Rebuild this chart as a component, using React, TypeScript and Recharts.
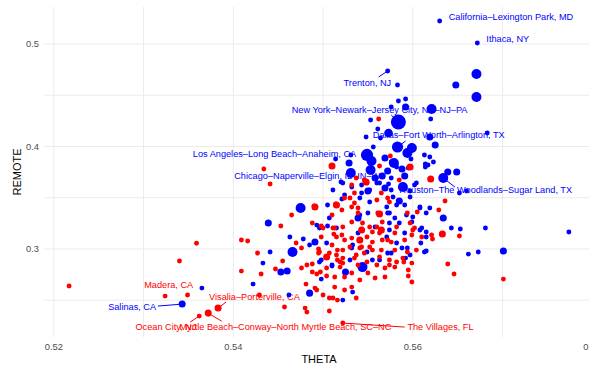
import { ScatterChart, Scatter, XAxis, YAxis, ZAxis, CartesianGrid, ReferenceLine } from 'recharts'

// [theta, remote, size weight]
const bluePoints: number[][] = [
  [0.5630, 0.5224, 2], [0.5672, 0.5010, 2], [0.5671, 0.4707, 5], [0.5648, 0.4600, 3], [0.5671, 0.4483, 5],
  [0.5572, 0.4737, 2], [0.5583, 0.4600, 2], [0.5584, 0.4444, 2], [0.5592, 0.4463, 2], [0.5592, 0.4385, 3],
  [0.5621, 0.4366, 5], [0.5620, 0.4268, 2], [0.5584, 0.4239, 10], [0.5576, 0.4385, 2], [0.5553, 0.4258, 2],
  [0.5561, 0.4170, 2], [0.5573, 0.4131, 4], [0.5564, 0.4083, 2], [0.5548, 0.4092, 2], [0.5619, 0.4092, 3],
  [0.5683, 0.4131, 2], [0.5625, 0.4014, 3], [0.5583, 0.3995, 6], [0.5556, 0.3995, 2], [0.5599, 0.3985, 5],
  [0.5594, 0.3936, 5], [0.5549, 0.3917, 7], [0.5569, 0.3887, 3], [0.5613, 0.3917, 2], [0.5619, 0.3897, 2],
  [0.5598, 0.3878, 2], [0.5531, 0.3917, 2], [0.5514, 0.3878, 2], [0.5529, 0.3839, 3], [0.5554, 0.3858, 5],
  [0.5579, 0.3839, 5], [0.5623, 0.3848, 2], [0.5614, 0.3829, 2], [0.5614, 0.3800, 2], [0.5553, 0.3770, 5],
  [0.5588, 0.3780, 3], [0.5572, 0.3760, 3], [0.5595, 0.3790, 2], [0.5531, 0.3741, 5], [0.5558, 0.3692, 3],
  [0.5566, 0.3712, 3], [0.5576, 0.3692, 2], [0.5591, 0.3712, 3], [0.5634, 0.3692, 5], [0.5639, 0.3751, 3],
  [0.5649, 0.3751, 3], [0.5520, 0.3653, 2], [0.5532, 0.3604, 2], [0.5563, 0.3643, 2], [0.5573, 0.3634, 2],
  [0.5589, 0.3604, 5], [0.5604, 0.3643, 2], [0.5652, 0.3546, 2], [0.5660, 0.3565, 2], [0.5634, 0.3302, 3],
  [0.5643, 0.3204, 2], [0.5653, 0.3194, 2], [0.5681, 0.3204, 2], [0.5774, 0.3165, 2], [0.5662, 0.2950, 2],
  [0.5673, 0.2970, 2], [0.5701, 0.2980, 3], [0.5511, 0.3575, 2], [0.5543, 0.3624, 2], [0.5550, 0.3565, 3],
  [0.5560, 0.3643, 2], [0.5569, 0.3595, 3], [0.5576, 0.3575, 2], [0.5578, 0.3507, 2], [0.5585, 0.3468, 3],
  [0.5541, 0.3497, 2], [0.5552, 0.3458, 2], [0.5597, 0.3507, 2], [0.5597, 0.3565, 2], [0.5608, 0.3399, 2],
  [0.5619, 0.3399, 2], [0.5507, 0.3302, 2], [0.5539, 0.3302, 3], [0.5572, 0.3351, 2], [0.5593, 0.3331, 2],
  [0.5574, 0.3253, 2], [0.5580, 0.3302, 2], [0.5599, 0.3263, 2], [0.5608, 0.3185, 2], [0.5585, 0.3253, 2],
  [0.5571, 0.3116, 2], [0.5582, 0.3058, 2], [0.5615, 0.3116, 2], [0.5533, 0.3038, 2], [0.5594, 0.3009, 2],
  [0.5532, 0.3009, 2], [0.5549, 0.2970, 2], [0.5572, 0.2960, 2], [0.5588, 0.3009, 2], [0.5615, 0.2980, 2],
  [0.5510, 0.2843, 2], [0.5530, 0.2892, 2], [0.5544, 0.2823, 5], [0.5555, 0.2892, 2], [0.5563, 0.2892, 2],
  [0.5592, 0.2911, 2], [0.5525, 0.2775, 3], [0.5533, 0.2579, 2], [0.5522, 0.2501, 2], [0.5441, 0.2970, 2],
  [0.5466, 0.2970, 5], [0.5496, 0.2872, 2], [0.5433, 0.2862, 2], [0.5453, 0.2775, 3], [0.5460, 0.2784, 3],
  [0.5510, 0.2833, 2], [0.5498, 0.2706, 2], [0.5422, 0.2657, 2], [0.5485, 0.2569, 3], [0.5462, 0.2550, 2],
  [0.5475, 0.3399, 5], [0.5505, 0.3429, 2], [0.5439, 0.3253, 3], [0.5493, 0.3233, 2], [0.5496, 0.3204, 2],
  [0.5505, 0.3224, 2], [0.5463, 0.3116, 2], [0.5478, 0.3097, 2], [0.5491, 0.3067, 3], [0.5504, 0.3058, 2],
  [0.5343, 0.2462, 3], [0.5365, 0.2618, 2], [0.5521, 0.3487, 2], [0.5615, 0.3165, 2], [0.5609, 0.3058, 2],
  [0.5613, 0.2970, 2], [0.5597, 0.3965, 2], [0.5617, 0.3819, 2], [0.5576, 0.3848, 2], [0.5582, 0.3800, 2],
  [0.5522, 0.3643, 2], [0.5552, 0.3575, 2], [0.5602, 0.3624, 2], [0.5524, 0.3526, 2], [0.5543, 0.3546, 2],
  [0.5541, 0.3331, 2], [0.5550, 0.3351, 2], [0.5571, 0.3409, 2], [0.5574, 0.3351, 2], [0.5582, 0.3429, 2],
  [0.5591, 0.3429, 2], [0.5600, 0.3312, 2], [0.5608, 0.3409, 2], [0.5615, 0.3351, 2], [0.5515, 0.3204, 2],
  [0.5539, 0.3155, 2], [0.5558, 0.3214, 2], [0.5574, 0.3185, 2], [0.5591, 0.3155, 2], [0.5610, 0.3204, 2],
  [0.5485, 0.3038, 2], [0.5498, 0.2892, 2], [0.5576, 0.2960, 2], [0.5597, 0.2941, 2],
]

const redPoints: number[][] = [
  [0.5562, 0.4268, 2], [0.5575, 0.3907, 2], [0.5510, 0.3809, 3], [0.5563, 0.3809, 2], [0.5597, 0.3800, 3],
  [0.5537, 0.3692, 2], [0.5548, 0.3653, 3], [0.5585, 0.3673, 2], [0.5620, 0.3682, 3], [0.5636, 0.3468, 2],
  [0.5629, 0.3380, 2], [0.5633, 0.3145, 3], [0.5622, 0.3097, 2], [0.5652, 0.3126, 2], [0.5639, 0.2853, 2],
  [0.5646, 0.2755, 2], [0.5701, 0.2706, 2], [0.5546, 0.3673, 2], [0.5565, 0.3546, 2], [0.5524, 0.3497, 2],
  [0.5530, 0.3497, 2], [0.5515, 0.3429, 3], [0.5535, 0.3448, 2], [0.5560, 0.3477, 2], [0.5572, 0.3497, 2],
  [0.5521, 0.3380, 2], [0.5539, 0.3351, 2], [0.5563, 0.3341, 3], [0.5532, 0.3263, 2], [0.5544, 0.3253, 2],
  [0.5552, 0.3214, 2], [0.5560, 0.3214, 2], [0.5566, 0.3263, 2], [0.5513, 0.3204, 2], [0.5522, 0.3214, 2],
  [0.5543, 0.3185, 3], [0.5555, 0.3165, 2], [0.5565, 0.3185, 3], [0.5600, 0.3185, 2], [0.5599, 0.3136, 2],
  [0.5580, 0.3155, 2], [0.5515, 0.3116, 2], [0.5524, 0.3087, 2], [0.5541, 0.3087, 3], [0.5549, 0.3116, 2],
  [0.5555, 0.3067, 2], [0.5566, 0.3087, 2], [0.5576, 0.3067, 2], [0.5591, 0.3087, 2], [0.5610, 0.3116, 2],
  [0.5621, 0.3136, 2], [0.5510, 0.3038, 2], [0.5543, 0.3019, 2], [0.5552, 0.3019, 2], [0.5522, 0.2989, 2],
  [0.5530, 0.3019, 2], [0.5541, 0.3009, 2], [0.5555, 0.2989, 2], [0.5565, 0.2989, 2], [0.5580, 0.2989, 2],
  [0.5594, 0.2970, 2], [0.5604, 0.2989, 2], [0.5516, 0.2892, 2], [0.5522, 0.2862, 2], [0.5535, 0.2911, 2],
  [0.5539, 0.2843, 2], [0.5549, 0.2872, 2], [0.5560, 0.2843, 2], [0.5569, 0.2814, 2], [0.5574, 0.2843, 2],
  [0.5580, 0.2823, 2], [0.5590, 0.2872, 2], [0.5599, 0.2862, 2], [0.5513, 0.2726, 2], [0.5532, 0.2765, 2],
  [0.5541, 0.2697, 2], [0.5558, 0.2716, 2], [0.5569, 0.2726, 2], [0.5595, 0.2794, 2], [0.5595, 0.2736, 2],
  [0.5599, 0.2677, 2], [0.5513, 0.2628, 2], [0.5524, 0.2599, 2], [0.5532, 0.2628, 2], [0.5537, 0.2521, 2],
  [0.5511, 0.2521, 2], [0.5516, 0.2501, 2], [0.5522, 0.2277, 2], [0.5427, 0.2960, 2], [0.5495, 0.2999, 2],
  [0.5495, 0.2960, 2], [0.5504, 0.2921, 3], [0.5515, 0.2941, 2], [0.5519, 0.2872, 2], [0.5455, 0.2882, 2],
  [0.5409, 0.2784, 2], [0.5431, 0.2755, 2], [0.5476, 0.2814, 2], [0.5482, 0.2843, 2], [0.5488, 0.2853, 2],
  [0.5497, 0.2775, 2], [0.5493, 0.2755, 2], [0.5504, 0.2736, 2], [0.5481, 0.2657, 2], [0.5491, 0.2618, 2],
  [0.5500, 0.2550, 2], [0.5507, 0.2521, 2], [0.5429, 0.2550, 2], [0.5457, 0.2433, 2], [0.5480, 0.2423, 2],
  [0.5482, 0.2384, 2], [0.5507, 0.2394, 2], [0.5434, 0.3780, 2], [0.5441, 0.3634, 2], [0.5491, 0.3409, 3],
  [0.5510, 0.3331, 2], [0.5465, 0.3331, 2], [0.5453, 0.3224, 2], [0.5488, 0.3253, 2], [0.5500, 0.3204, 2],
  [0.5511, 0.3204, 2], [0.5498, 0.3116, 2], [0.5512, 0.3145, 2], [0.5409, 0.3087, 2], [0.5416, 0.3077, 2],
  [0.5470, 0.3058, 2], [0.5217, 0.2638, 2], [0.5359, 0.3055, 2], [0.5340, 0.2882, 2], [0.5324, 0.2540, 2],
  [0.5349, 0.2550, 2], [0.5362, 0.2345, 2], [0.5372, 0.2374, 3], [0.5383, 0.2423, 3], [0.5447, 0.2804, 2],
  [0.5532, 0.3624, 2], [0.5549, 0.3643, 2], [0.5535, 0.3546, 2], [0.5490, 0.3419, 2], [0.5514, 0.3438, 2],
  [0.5532, 0.3409, 2], [0.5539, 0.3399, 2], [0.5561, 0.3351, 2], [0.5574, 0.3458, 2], [0.5594, 0.3351, 2],
  [0.5605, 0.3360, 2], [0.5498, 0.3224, 2], [0.5521, 0.3136, 2], [0.5532, 0.3106, 2], [0.5563, 0.3155, 2],
  [0.5572, 0.3087, 2], [0.5582, 0.3214, 2], [0.5597, 0.3253, 2], [0.5602, 0.3204, 2], [0.5476, 0.3009, 2],
  [0.5496, 0.2970, 2], [0.5507, 0.2960, 2], [0.5516, 0.2989, 2], [0.5522, 0.2911, 2], [0.5537, 0.2941, 2],
  [0.5546, 0.2960, 2], [0.5563, 0.2921, 2], [0.5574, 0.2892, 2], [0.5582, 0.2872, 2], [0.5589, 0.2911, 2],
  [0.5488, 0.2775, 2], [0.5504, 0.2814, 2], [0.5519, 0.2823, 2], [0.5524, 0.2726, 2], [0.5550, 0.2765, 2],
  [0.5493, 0.2599, 2],
]

// labelled areas: text position, anchor and colour
const labelNames = [
  'California–Lexington Park, MD', 'Ithaca, NY', 'Trenton, NJ', 'New York–Newark–Jersey City, NY–NJ–PA',
  'Dallas–Fort Worth–Arlington, TX', 'Los Angeles–Long Beach–Anaheim, CA', 'Chicago–Naperville–Elgin, IL–IN–WI',
  'Houston–The Woodlands–Sugar Land, TX', 'Madera, CA', 'Salinas, CA', 'Visalia–Porterville, CA',
  'Ocean City, NJ', 'Myrtle Beach–Conway–North Myrtle Beach, SC–NC', 'The Villages, FL',
]
const labelTheta = [0.5640, 0.5682, 0.5576, 0.5563, 0.5629, 0.5537, 0.5401, 0.5585, 0.5328, 0.5314, 0.5373, 0.5325, 0.5458, 0.5594]
const labelRemote = [0.5263, 0.5049, 0.4619, 0.4356, 0.4112, 0.3926, 0.3712, 0.3575, 0.2648, 0.2433, 0.2531, 0.2238, 0.2238, 0.2238]
const labelAnchor = ['start', 'start', 'end', 'middle', 'middle', 'end', 'start', 'start', 'middle', 'end', 'start', 'middle', 'middle', 'start']
const labelGroup = ['blue', 'blue', 'blue', 'blue', 'blue', 'blue', 'blue', 'blue', 'red', 'blue', 'red', 'red', 'red', 'red']

// leader segments: [point theta, point remote, end theta, end remote, group]
const leaders: [number, number, number, number, string][] = [
  [0.5572, 0.4737, 0.5562, 0.4678, 'blue'],
  [0.5584, 0.4239, 0.5576, 0.4307, 'blue'],
  [0.5583, 0.3995, 0.5592, 0.4053, 'blue'],
  [0.5634, 0.3692, 0.5647, 0.3604, 'blue'],
  [0.5343, 0.2462, 0.5316, 0.2443, 'blue'],
  [0.5383, 0.2423, 0.5392, 0.2482, 'red'],
  [0.5362, 0.2345, 0.5352, 0.2287, 'red'],
  [0.5372, 0.2374, 0.5387, 0.2296, 'red'],
  [0.5522, 0.2277, 0.5591, 0.2238, 'red'],
]

const xTicks = [0.52, 0.54, 0.56, 0.58]
const yTicks = [0.3, 0.4, 0.5]
const xGrid = [0.52, 0.53, 0.54, 0.55, 0.56, 0.57, 0.58]
const yGrid = [0.25, 0.3, 0.35, 0.4, 0.45, 0.5]

const COLORS: Record<string, string> = { blue: '#0000FF', red: '#FF0000' }
const FONT = '"Liberation Sans", Arial, sans-serif'

const toRows = (pts: number[][]) => pts.map(([theta, remote, z]) => ({ theta, remote, z }))
const blueData = toRows(bluePoints)
const redData = toRows(redPoints)
const labelData = labelNames.map((name, i) => ({
  theta: labelTheta[i],
  remote: labelRemote[i],
  name,
  anchor: labelAnchor[i],
  group: labelGroup[i],
}))

const LabelShape = (props: any) => {
  const { cx, cy, payload } = props
  return (
    <text
      x={cx}
      y={cy}
      dy="0.35em"
      textAnchor={payload.anchor}
      fill={COLORS[payload.group]}
      fontSize={9.2}
      fontFamily={FONT}
    >
      {payload.name}
    </text>
  )
}

export default function App() {
  return (
    <div
      style={{
        position: 'fixed',
        left: 0,
        top: 0,
        width: 589,
        height: 371,
        overflow: 'hidden',
        background: '#fff',
        fontFamily: FONT,
      }}
    >
      <ScatterChart width={600} height={371} margin={{ top: 7, right: 6, bottom: 0, left: 0 }}>
        <CartesianGrid
          stroke="#ebebeb"
          strokeWidth={1}
          verticalValues={xGrid}
          horizontalValues={yGrid}
        />
        <XAxis
          type="number"
          dataKey="theta"
          domain={[0.5189, 0.5802]}
          allowDataOverflow
          ticks={xTicks}
          interval={0}
          tickFormatter={(v: number) => v.toFixed(2)}
          axisLine={false}
          tickLine={false}
          tickSize={0}
          tickMargin={6}
          height={34}
          tick={{ fill: '#4d4d4d', fontSize: 9.3, fontFamily: FONT }}
        />
        <YAxis
          type="number"
          dataKey="remote"
          domain={[0.2141, 0.5361]}
          allowDataOverflow
          ticks={yTicks}
          interval={0}
          tickFormatter={(v: number) => v.toFixed(1)}
          axisLine={false}
          tickLine={false}
          tickSize={0}
          tickMargin={5}
          width={44}
          tick={{ fill: '#4d4d4d', fontSize: 9.3, fontFamily: FONT }}
        />
        <ZAxis type="number" dataKey="z" domain={[2, 10]} range={[19, 177]} />
        {leaders.map(([x1, y1, x2, y2, g], i) => (
          <ReferenceLine
            key={i}
            segment={[{ x: x1, y: y1 }, { x: x2, y: y2 }]}
            stroke={COLORS[g]}
            strokeWidth={1}
          />
        ))}
        <Scatter data={labelData} shape={LabelShape} isAnimationActive={false} />
        <Scatter data={blueData} fill={COLORS.blue} isAnimationActive={false} />
        <Scatter data={redData} fill={COLORS.red} isAnimationActive={false} />
      </ScatterChart>
      <div
        style={{
          position: 'absolute',
          left: 319,
          top: 359,
          transform: 'translate(-50%, -50%)',
          fontSize: 11,
          color: '#000',
          whiteSpace: 'nowrap',
        }}
      >
        THETA
      </div>
      <div
        style={{
          position: 'absolute',
          left: 17,
          top: 172,
          transform: 'translate(-50%, -50%) rotate(-90deg)',
          fontSize: 11,
          color: '#000',
          whiteSpace: 'nowrap',
        }}
      >
        REMOTE
      </div>
    </div>
  )
}
